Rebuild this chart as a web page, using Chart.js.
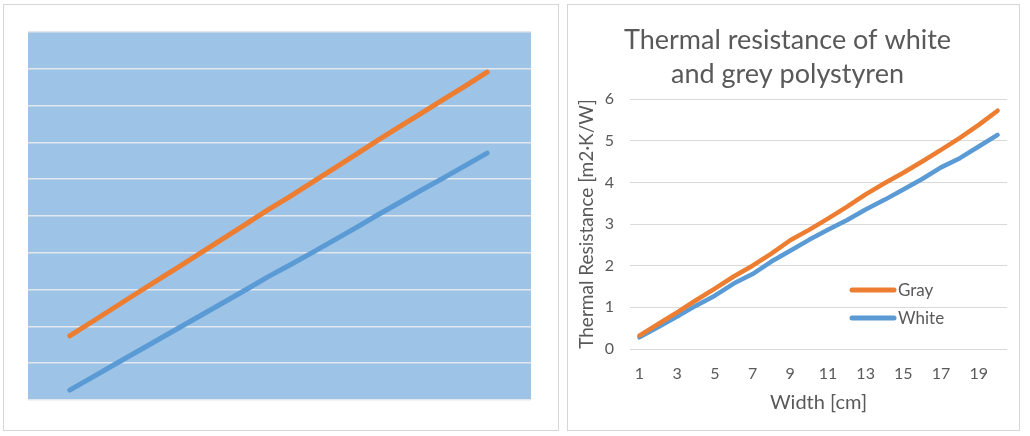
<!DOCTYPE html>
<html>
<head>
<meta charset="utf-8">
<script src="https://cdn.jsdelivr.net/npm/chart.js@4"></script>
<style>
  html, body { margin: 0; padding: 0; background: #ffffff; }
  body { width: 1030px; height: 436px; position: relative; overflow: hidden; }
  .panel { position: absolute; border: 1px solid #d6d6d6; background: #fff; box-sizing: border-box; }
  canvas { position: absolute; }
</style>
</head>
<body>
<div class="panel" style="left:3px; top:4px; width:556px; height:427px;"></div>
<div class="panel" style="left:567px; top:4px; width:453px; height:427px;"></div>
<canvas id="left" width="523" height="388" style="left:18px; top:22px; width:523px; height:388px;"></canvas>
<canvas id="right" width="451" height="424" style="left:568px; top:5px; width:451px; height:424px;"></canvas>
<script>
// ---- Data ----
const widths = [1,2,3,4,5,6,7,8,9,10,11,12,13,14,15,16,17,18,19,20];
const xTickLabels = ['1','3','5','7','9','11','13','15','17','19'];
const grayResistance  = [0.32,0.60,0.88,1.17,1.45,1.74,2.00,2.29,2.61,2.86,3.13,3.41,3.71,3.98,4.23,4.50,4.78,5.07,5.38,5.72];
const whiteResistance = [0.28,0.53,0.78,1.04,1.28,1.57,1.80,2.10,2.36,2.62,2.86,3.09,3.35,3.58,3.83,4.08,4.36,4.58,4.86,5.14];
// left (unlabelled) panel series
const leftOrange = [1.74,2.12,2.50,2.88,3.26,3.63,4.01,4.39,4.77,5.16,5.52,5.90,6.28,6.66,7.05,7.42,7.79,8.16,8.53,8.91];
const leftBlue   = [0.27,0.61,0.95,1.29,1.63,1.97,2.31,2.65,2.99,3.34,3.66,3.99,4.33,4.67,5.02,5.36,5.70,6.03,6.37,6.71];
const seriesNames = ['Gray','White'];
const titleLines = ['Thermal resistance of white','and grey polystyren'];

const ORANGE = '#ed7d31', BLUE = '#5b9bd5', TXT = '#595959', GRID = '#d9d9d9';

// ---- Left chart ----
const plotBg = {
  id: 'plotBg',
  beforeDraw(chart, args, opts) {
    const {ctx, chartArea: a} = chart;
    ctx.save();
    ctx.fillStyle = opts.color;
    ctx.fillRect(a.left, a.top, a.right - a.left, a.bottom - a.top);
    ctx.restore();
  }
};

new Chart(document.getElementById('left'), {
  type: 'line',
  data: {
    datasets: [
      { data: widths.map((w,i)=>({x:w, y:leftOrange[i]})), borderColor: ORANGE, borderWidth: 5, pointRadius: 0, borderCapStyle: 'round', borderJoinStyle: 'round' },
      { data: widths.map((w,i)=>({x:w, y:leftBlue[i]})), borderColor: BLUE, borderWidth: 5, pointRadius: 0, borderCapStyle: 'round', borderJoinStyle: 'round' }
    ]
  },
  options: {
    responsive: false, animation: false,
    layout: { padding: 10 },
    plugins: { legend: { display: false }, tooltip: { enabled: false }, plotBg: { color: '#9dc3e6' } },
    scales: {
      x: { type: 'linear', min: -0.9, max: 22, display: false },
      y: { min: 0, max: 10, ticks: { display: false, stepSize: 1 },
           grid: { color: '#e2e7ee', lineWidth: 1.5, drawTicks: false }, border: { display: false } }
    }
  },
  plugins: [plotBg]
});

// ---- Right chart ----
const innerLegend = {
  id: 'innerLegend',
  afterDraw(chart) {
    const {ctx} = chart;
    ctx.save();
    ctx.font = '17px Lato';
    ctx.textBaseline = 'middle';
    chart.data.datasets.forEach((ds, i) => {
      const y = 285 + i * 28;
      ctx.strokeStyle = ds.borderColor;
      ctx.lineWidth = 5;
      ctx.lineCap = 'round';
      ctx.beginPath(); ctx.moveTo(284, y); ctx.lineTo(326, y); ctx.stroke();
      ctx.fillStyle = TXT;
      ctx.fillText(ds.label, 330, y + 1);
    });
    ctx.restore();
  }
};

new Chart(document.getElementById('right'), {
  type: 'line',
  data: {
    labels: widths,
    datasets: [
      { label: seriesNames[0], data: grayResistance, borderColor: ORANGE, borderWidth: 4.5, pointRadius: 0, borderCapStyle: 'round', borderJoinStyle: 'round' },
      { label: seriesNames[1], data: whiteResistance, borderColor: BLUE, borderWidth: 4.5, pointRadius: 0, borderCapStyle: 'round', borderJoinStyle: 'round' }
    ]
  },
  options: {
    responsive: false, animation: false,
    layout: { padding: { left: 0, right: 12, top: 0, bottom: 0 } },
    plugins: {
      legend: { display: false }, tooltip: { enabled: false },
      title: { display: true, text: titleLines, color: TXT, font: { family: 'Lato', size: 27, weight: 'normal', lineHeight: 1.26 }, padding: { top: 18, bottom: 8 } }
    },
    scales: {
      x: {
        offset: true,
        grid: { display: false, drawTicks: false },
        border: { display: false },
        ticks: { color: TXT, font: { family: 'Lato', size: 16 }, padding: 15, autoSkip: false, maxRotation: 0,
                 callback: function(v, i) { const l = String(widths[i]); return xTickLabels.includes(l) ? l : ''; } },
        title: { display: true, text: 'Width [cm]', color: TXT, font: { family: 'Lato', size: 20 }, padding: { top: 0, bottom: 14 } },
        afterFit(s) { s.height = 80; }
      },
      y: {
        min: 0, max: 6,
        grid: { color: GRID, lineWidth: 1, drawTicks: false },
        border: { display: false },
        ticks: { stepSize: 1, color: TXT, font: { family: 'Lato', size: 16 }, padding: 16 },
        title: { display: true, text: 'Thermal Resistance [m2·K/W]', color: TXT, font: { family: 'Lato', size: 19 }, padding: { top: 7, bottom: 0 } },
        afterFit(s) { s.width = 62; }
      }
    }
  },
  plugins: [innerLegend]
});
</script>
</body>
</html>
